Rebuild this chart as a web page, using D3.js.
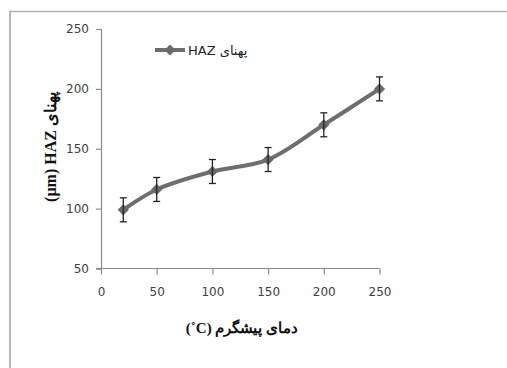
<!DOCTYPE html>
<html><head><meta charset="utf-8">
<script src="https://cdn.jsdelivr.net/npm/d3@7"></script>
<style>
html,body{margin:0;padding:0;background:#fff;}
svg{display:block;}
</style></head>
<body>
<svg id="c" width="507" height="368"></svg>
<script>
const temps = [20, 50, 100, 150, 200, 250];
const hazWidth = [99, 116, 131, 141, 170, 200];
const errors = [10, 10, 10, 10, 10, 10];
const xTicks = [0, 50, 100, 150, 200, 250];
const yTicks = [50, 100, 150, 200, 250];
const seriesName = "HAZ پهنای";
const xTitle = "(˚C) دمای پیشگرم";
const yTitle = "(µm) HAZ پهنای";

const svg = d3.select("#c");
// outer frame
svg.append("line").attr("x1",10).attr("y1",11.5).attr("x2",507).attr("y2",11.5).attr("stroke","#b4b4b4").attr("stroke-width",1.5);
svg.append("line").attr("x1",10).attr("y1",11).attr("x2",10).attr("y2",368).attr("stroke","#a0a0a0").attr("stroke-width",1.5);

const x = d3.scaleLinear().domain([0,250]).range([101,379.5]);
const y = d3.scaleLinear().domain([50,250]).range([268.5,29]);

const axisColor = "#8c8c8c";
const labelColor = "#404040";
const font = "'DejaVu Sans', Verdana, sans-serif";

const ya = svg.append("g").attr("transform","translate(101,0)")
  .call(d3.axisLeft(y).tickValues(yTicks).tickSize(5).tickPadding(7).tickFormat(d3.format("d")));
const xa = svg.append("g").attr("transform","translate(0,268.5)")
  .call(d3.axisBottom(x).tickValues(xTicks).tickSize(6).tickPadding(13).tickFormat(d3.format("d")));
[ya,xa].forEach(a=>{
  a.select(".domain").attr("stroke",axisColor).attr("stroke-width",1.2);
  a.selectAll(".tick line").attr("stroke",axisColor).attr("stroke-width",1.2);
  a.selectAll(".tick text").attr("fill",labelColor).style("font-family",font).style("font-size","12px");
});
xa.select(".domain").attr("d","M96,0H379.5");

const data = temps.map((t,i)=>({t, v:hazWidth[i], e:errors[i]}));
const line = d3.line().x(d=>x(d.t)).y(d=>y(d.v)).curve(d3.curveCatmullRom.alpha(0.5));
svg.append("path").datum(data).attr("d",line).attr("fill","none")
  .attr("stroke","#6e6e6e").attr("stroke-width",4).attr("stroke-linecap","round");

const diamond = d3.symbol().type(d3.symbolDiamond2).size(80);
svg.selectAll(".mk").data(data).enter().append("path")
  .attr("transform",d=>`translate(${x(d.t)},${y(d.v)})`).attr("d",diamond).attr("fill","#6a6a6a");

const eb = svg.selectAll(".eb").data(data).enter().append("g").attr("stroke","#222").attr("stroke-width",1.3);
eb.append("line").attr("x1",d=>x(d.t)).attr("x2",d=>x(d.t)).attr("y1",d=>y(d.v+d.e)).attr("y2",d=>y(d.v-d.e));
eb.append("line").attr("x1",d=>x(d.t)-3.5).attr("x2",d=>x(d.t)+3.5).attr("y1",d=>y(d.v+d.e)).attr("y2",d=>y(d.v+d.e));
eb.append("line").attr("x1",d=>x(d.t)-3.5).attr("x2",d=>x(d.t)+3.5).attr("y1",d=>y(d.v-d.e)).attr("y2",d=>y(d.v-d.e));

// legend
const lg = svg.append("g");
lg.append("line").attr("x1",155).attr("x2",185).attr("y1",50).attr("y2",50).attr("stroke","#6e6e6e").attr("stroke-width",4);
lg.append("path").attr("transform","translate(170,50)").attr("d",diamond).attr("fill","#6a6a6a");
lg.append("text").attr("x",188).attr("y",54.5).attr("fill","#222").style("font-family",font).style("font-size","13px")
  .attr("direction","ltr").text(seriesName);

// axis titles
svg.append("text").attr("x",242).attr("y",333).attr("text-anchor","middle").attr("direction","ltr")
  .style("font-family","'Liberation Serif','DejaVu Serif',serif").style("font-weight","bold").style("font-size","15px")
  .attr("fill","#111").text(xTitle);
svg.append("text").attr("transform","translate(56,147) rotate(-90)").attr("text-anchor","middle").attr("direction","ltr")
  .style("font-family","'Liberation Serif','DejaVu Serif',serif").style("font-weight","bold").style("font-size","16px")
  .attr("fill","#111").text(yTitle);
</script>
</body></html>
